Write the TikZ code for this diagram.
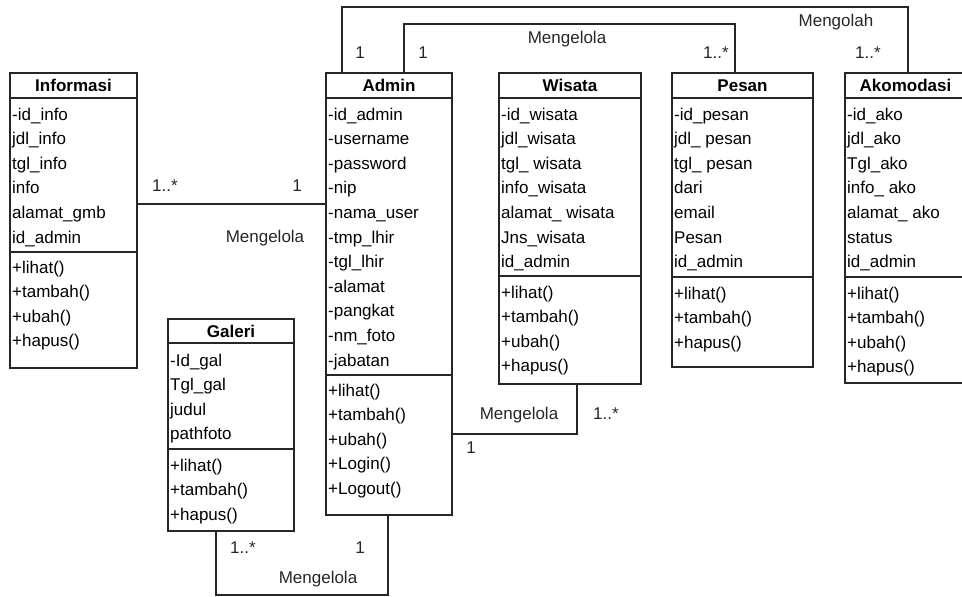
\documentclass[tikz,border=0pt]{standalone}
\usepackage{fontspec}
\setmainfont{Liberation Sans}
\usetikzlibrary{calc,positioning}

\begin{document}
\begin{tikzpicture}[x=1pt,y=-1pt,font=\fontsize{17}{20}\selectfont]
  \tikzset{kelas/.style={draw=black!85,line width=1.2pt,anchor=north west,inner sep=0pt,outer sep=0pt}}
  \tikzset{judul/.style={font=\fontsize{17}{20}\selectfont\bfseries,inner sep=0pt,text height=12pt,text depth=0pt}}
  \tikzset{isi/.style={anchor=west,inner sep=0pt,text height=12pt,text depth=0pt}}
  \tikzset{garis/.style={draw=black!85,line width=1.2pt}}
  \tikzset{lbl/.style={inner sep=0pt,text height=12pt,text depth=0pt,text=black!85}}

  \clip (0,0) rectangle (962,597);

  % Informasi
  \def\kx{10}
  \node[kelas,minimum width=127,minimum height=295] (info) at (\kx,73) {};
  \node[judul] (infoJudul) at (\kx+63.5,85.5) {Informasi};
  \draw[garis] (info.north west) ++(0,25) -- ++(127,0);
  \draw[garis] (info.north west) ++(0,179) -- ++(127,0);
  \foreach \t [count=\i] in {-id\_info,jdl\_info,tgl\_info,info,alamat\_gmb,id\_admin}
    \node[isi] (infoA\i) at (\kx+2,114+24.6*\i-24.6) {\t};
  \foreach \t [count=\i] in {+lihat(),+tambah(),+ubah(),+hapus()}
    \node[isi] (infoM\i) at (\kx+2,267+24.6*\i-24.6) {\t};

  % Admin
  \def\kx{326}
  \node[kelas,minimum width=126,minimum height=442] (admin) at (\kx,73) {};
  \node[judul] (adminJudul) at (\kx+63,85.5) {Admin};
  \draw[garis] (admin.north west) ++(0,25) -- ++(126,0);
  \draw[garis] (admin.north west) ++(0,302) -- ++(126,0);
  \foreach \t [count=\i] in {-id\_admin,-username,-password,-nip,-nama\_user,-tmp\_lhir,-tgl\_lhir,-alamat,-pangkat,-nm\_foto,-jabatan}
    \node[isi] (adminA\i) at (\kx+2,114+24.6*\i-24.6) {\t};
  \foreach \t [count=\i] in {+lihat(),+tambah(),+ubah(),+Login(),+Logout()}
    \node[isi] (adminM\i) at (\kx+2,390+24.6*\i-24.6) {\t};

  % Wisata
  \def\kx{499}
  \node[kelas,minimum width=142,minimum height=311] (wisata) at (\kx,73) {};
  \node[judul] (wisataJudul) at (\kx+71,85.5) {Wisata};
  \draw[garis] (wisata.north west) ++(0,25) -- ++(142,0);
  \draw[garis] (wisata.north west) ++(0,203) -- ++(142,0);
  \foreach \t [count=\i] in {-id\_wisata,jdl\_wisata,tgl\_ wisata,info\_wisata,alamat\_ wisata,Jns\_wisata,id\_admin}
    \node[isi] (wisataA\i) at (\kx+2,114+24.6*\i-24.6) {\t};
  \foreach \t [count=\i] in {+lihat(),+tambah(),+ubah(),+hapus()}
    \node[isi] (wisataM\i) at (\kx+2,292+24.6*\i-24.6) {\t};

  % Pesan
  \def\kx{672}
  \node[kelas,minimum width=141,minimum height=294] (pesan) at (\kx,73) {};
  \node[judul] (pesanJudul) at (\kx+70.5,85.5) {Pesan};
  \draw[garis] (pesan.north west) ++(0,25) -- ++(141,0);
  \draw[garis] (pesan.north west) ++(0,204) -- ++(141,0);
  \foreach \t [count=\i] in {-id\_pesan,jdl\_ pesan,tgl\_ pesan,dari,email,Pesan,id\_admin}
    \node[isi] (pesanA\i) at (\kx+2,114+24.6*\i-24.6) {\t};
  \foreach \t [count=\i] in {+lihat(),+tambah(),+hapus()}
    \node[isi] (pesanM\i) at (\kx+2,293+24.6*\i-24.6) {\t};

  % Akomodasi
  \def\kx{845}
  \node[kelas,minimum width=121,minimum height=310] (akomodasi) at (\kx,73) {};
  \node[judul] (akoJudul) at (\kx+60.5,85.5) {Akomodasi};
  \draw[garis] (akomodasi.north west) ++(0,25) -- ++(121,0);
  \draw[garis] (akomodasi.north west) ++(0,204) -- ++(121,0);
  \foreach \t [count=\i] in {-id\_ako,jdl\_ako,Tgl\_ako,info\_ ako,alamat\_ ako,status,id\_admin}
    \node[isi] (akoA\i) at (\kx+2,114+24.6*\i-24.6) {\t};
  \foreach \t [count=\i] in {+lihat(),+tambah(),+ubah(),+hapus()}
    \node[isi] (akoM\i) at (\kx+2,293+24.6*\i-24.6) {\t};

  % Galeri
  \def\kx{168}
  \node[kelas,minimum width=126,minimum height=212] (galeri) at (\kx,319) {};
  \node[judul] (galeriJudul) at (\kx+63,331) {Galeri};
  \draw[garis] (galeri.north west) ++(0,24) -- ++(126,0);
  \draw[garis] (galeri.north west) ++(0,130) -- ++(126,0);
  \foreach \t [count=\i] in {-Id\_gal,Tgl\_gal,judul,pathfoto}
    \node[isi] (galeriA\i) at (\kx+2,360+24.6*\i-24.6) {\t};
  \foreach \t [count=\i] in {+lihat(),+tambah(),+hapus()}
    \node[isi] (galeriM\i) at (\kx+2,465+24.6*\i-24.6) {\t};

  % Admin - Akomodasi (Mengolah)
  \coordinate (olahKiri) at (342,7);
  \coordinate (olahKanan) at (908,7);
  \draw[garis] (admin.north -| olahKiri) -- (olahKiri) -- (olahKanan) -- (akomodasi.north -| olahKanan);
  \node[lbl] (olahL1) at (360,52) {1};
  \node[lbl] (olahL2) at (836,21) {Mengolah};
  \node[lbl] (olahL3) at (868,52) {1..*};

  % Admin - Pesan
  \coordinate (pesanKiri) at (404,24);
  \coordinate (pesanKanan) at (735,24);
  \draw[garis] (admin.north -| pesanKiri) -- (pesanKiri) -- (pesanKanan) -- (pesan.north -| pesanKanan);
  \node[lbl] (pesanL1) at (423,52) {1};
  \node[lbl] (pesanL2) at (567,37) {Mengelola};
  \node[lbl] (pesanL3) at (716,52) {1..*};

  % Informasi - Admin
  \coordinate (infoGaris) at (0,204);
  \draw[garis] (info.east |- infoGaris) -- (admin.west |- infoGaris);
  \node[lbl] (infoL1) at (165,185) {1..*};
  \node[lbl] (infoL2) at (297,185) {1};
  \node[lbl] (infoL3) at (265,236) {Mengelola};

  % Admin - Wisata
  \coordinate (wisataBelok) at (577,434);
  \draw[garis] (admin.east |- wisataBelok) -- (wisataBelok) -- (wisata.south -| wisataBelok);
  \node[lbl] (wisataL1) at (471,447) {1};
  \node[lbl] (wisataL2) at (519,413) {Mengelola};
  \node[lbl] (wisataL3) at (606,413) {1..*};

  % Galeri - Admin
  \coordinate (galeriKiri) at (216,595);
  \coordinate (galeriKanan) at (388,595);
  \draw[garis] (galeri.south -| galeriKiri) -- (galeriKiri) -- (galeriKanan) -- (admin.south -| galeriKanan);
  \node[lbl] (galeriL1) at (243,547) {1..*};
  \node[lbl] (galeriL2) at (360,547) {1};
  \node[lbl] (galeriL3) at (318,577) {Mengelola};
\end{tikzpicture}
\end{document}
